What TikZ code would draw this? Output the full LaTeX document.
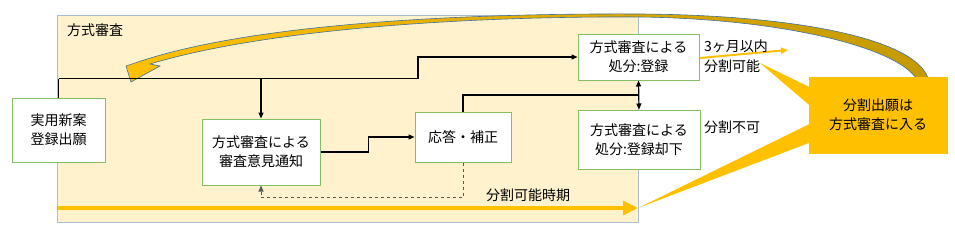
\documentclass[tikz,border=0pt]{standalone}
\usepackage{fontspec}
\setmainfont{Noto Sans CJK JP}
\usetikzlibrary{arrows.meta,calc}
\definecolor{regionfill}{HTML}{FFF2CC}
\definecolor{regionline}{HTML}{A9BCD0}
\definecolor{boxline}{HTML}{86BF63}
\definecolor{gold}{HTML}{FFC000}
\definecolor{darkgold}{HTML}{C49A00}
\definecolor{edgeblue}{HTML}{41719C}
\begin{document}
\begin{tikzpicture}[x=1pt, y=-1pt,
    box/.style={draw=boxline, fill=white, line width=1pt, align=center,
      font=\fontsize{14}{19}\selectfont, inner sep=1pt},
    lbl/.style={font=\fontsize{14}{20}\selectfont, align=left, inner sep=0pt},
    flow/.style={line width=1.2pt, -{Triangle[length=6pt,width=5pt]}}]
  \useasboundingbox (0,0) rectangle (955,231);
  % examination region
  \draw[draw=regionline, fill=regionfill, line width=1pt] (57,15) rectangle (638,222);
  \node[lbl, anchor=west] (region) at (67,30) {方式審査};
  % curved arrow back to the start
  \shade[left color=gold, right color=darkgold, draw=edgeblue, line width=0.6pt]
    (141,61) .. controls (250,25) and (450,13) .. (640,14)
    .. controls (800,15) and (922,40) .. (929,82) -- (918,82)
    .. controls (905,50) and (790,19) .. (640,17)
    .. controls (450,16) and (260,31) .. (150,64)
    -- (160,66) -- (131,82) -- (126,66) -- cycle;
  % boxes
  \node[box, minimum width=93pt, minimum height=64pt] (app) at (58.5,130) {実用新案\\登録出願};
  \node[box, minimum width=118pt, minimum height=66pt] (notice) at (261,152) {方式審査による\\審査意見通知};
  \node[box, minimum width=96pt, minimum height=50pt] (reply) at (463,137) {応答・補正};
  \node[box, minimum width=121pt, minimum height=46pt] (reg) at (638.5,57) {方式審査による\\処分:登録};
  \node[box, minimum width=122pt, minimum height=59pt] (rej) at (639,139.5) {方式審査による\\処分:登録却下};
  % flow
  \draw[line width=1.2pt] (app.north) -- ++(0,-19) coordinate (a1);
  \draw[flow] (a1) -| (notice.north);
  \draw[flow] (a1 -| notice.north) -- ++(157,0) |- (reg.west);
  \draw[flow] (notice.east) -- ++(48,0) |- (reply.west);
  \coordinate (mid) at ($(reg.south)!.5!(rej.north)$);
  \draw[line width=1.2pt] (reply.north) |- (mid);
  \draw[line width=1.2pt, {Triangle[length=6pt,width=5pt]}-{Triangle[length=6pt,width=5pt]}] (reg.south) -- (rej.north);
  \draw[dashed, gray!70!black, line width=1pt, -{Triangle[length=6pt,width=5pt]}] (reply.south) -- ++(0,35) -| (notice.south);
  % results
  \coordinate (out) at (788,50);
  \draw[gold, line width=2pt, -{Triangle[length=7pt,width=6pt]}] (reg.east |- 0,58) -- (out);
  \node[lbl, anchor=west] (within) at (704,56) {3ヶ月以内\\分割可能};
  \node[lbl, anchor=west] (nosplit) at (704,127) {分割不可};
  % period line
  \coordinate (t0) at (58,208);
  \coordinate (t1) at (638,208);
  \node[box, draw=gold, fill=gold, minimum width=138pt, minimum height=76pt] (callout) at (878,115) {分割出願は\\方式審査に入る};
  \coordinate (tipA) at (760,63);
  \fill[gold] ($(callout.west)+(3,-27)$) -- (tipA) -- ($(callout.west)+(3,-8)$) -- cycle;
  \fill[gold] ($(callout.west)+(3,8)$) -- (t1) -- ($(callout.west)+(3,27)$) -- cycle;
  \draw[gold, line width=4pt, -{Triangle[length=15pt,width=14pt]}] (t0) -- (t1);
  \node[lbl] (period) at (528,195) {分割可能時期};
\end{tikzpicture}
\end{document}
